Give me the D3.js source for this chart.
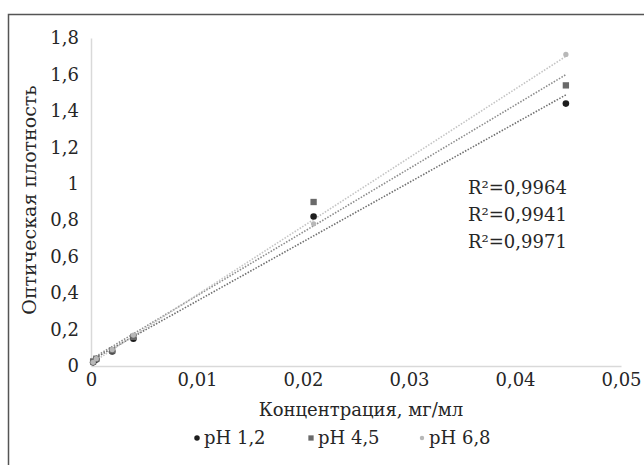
<!DOCTYPE html>
<html>
<head>
<meta charset="utf-8">
<script src="https://cdn.jsdelivr.net/npm/d3@7"></script>
<style>
  body { margin: 0; background: #fff; }
  svg { display: block; }
</style>
</head>
<body>
<div id="chart"></div>
<script>
const WIDTH = 644, HEIGHT = 465;
const MARGIN = { top: 38, left: 91 };
const PLOT_W = 530, PLOT_H = 328;

// concentration, mg/ml
const conc = [0.0002, 0.0005, 0.002, 0.004, 0.021, 0.0448];
const seriesNames = ["pH 1,2", "pH 4,5", "pH 6,8"];
const ph12 = [0.02, 0.035, 0.08, 0.15, 0.82, 1.44];
const ph45 = [0.025, 0.04, 0.085, 0.16, 0.90, 1.54];
const ph68 = [0.02, 0.04, 0.09, 0.17, 0.78, 1.71];
const r2Labels = ["R²=0,9964", "R²=0,9941", "R²=0,9971"];
const xTicks = [0, 0.01, 0.02, 0.03, 0.04, 0.05];
const yTicks = [0, 0.2, 0.4, 0.6, 0.8, 1, 1.2, 1.4, 1.6, 1.8];

const COLORS = ["#1e1e1e", "#6a6a6a", "#b8b8b8"];
const LINE_COLORS = ["#707070", "#8c8c8c", "#c4c4c4"];
const FONT = "'DejaVu Serif', serif";
const FONT_SIZE = "18px";

const series = [ph12, ph45, ph68].map((vals, i) => ({
  name: seriesNames[i],
  values: conc.map((c, j) => ({ x: c, y: vals[j] }))
}));

const fmt = (d) => String(+d.toFixed(2)).replace(".", ",");

const root = d3.select("#chart").append("svg")
  .attr("width", WIDTH)
  .attr("height", HEIGHT);

// outer frame (right and bottom edges fall outside the picture)
root.append("path")
  .attr("d", `M8.5,${HEIGHT} V14.5 H${WIDTH}`)
  .attr("fill", "none")
  .attr("stroke", "#555")
  .attr("stroke-width", 1.5);

const svg = root.append("g")
  .attr("transform", `translate(${MARGIN.left},${MARGIN.top})`);

const x = d3.scaleLinear().domain([0, 0.05]).range([0, PLOT_W]);
const y = d3.scaleLinear().domain([0, 1.8]).range([PLOT_H, 0]);

const textStyle = (sel) => sel
  .style("font-family", FONT)
  .style("font-size", FONT_SIZE)
  .attr("fill", "#262626");

// axes
const xAxis = svg.append("g")
  .attr("transform", `translate(0,${PLOT_H})`)
  .call(d3.axisBottom(x).tickValues(xTicks).tickFormat(fmt).tickSize(0).tickPadding(7));
const yAxis = svg.append("g")
  .call(d3.axisLeft(y).tickValues(yTicks).tickFormat(fmt).tickSize(0).tickPadding(12));

[xAxis, yAxis].forEach((ax) => {
  ax.select(".domain").attr("stroke", "#d9d9d9").attr("stroke-width", 1.5);
  ax.selectAll("text").call(textStyle);
});

// trendlines (least squares)
series.forEach((s, i) => {
  const mx = d3.mean(s.values, (d) => d.x);
  const my = d3.mean(s.values, (d) => d.y);
  const slope = d3.sum(s.values, (d) => (d.x - mx) * (d.y - my)) /
    d3.sum(s.values, (d) => (d.x - mx) ** 2);
  const icpt = my - slope * mx;
  const ends = d3.extent(conc).map((c) => ({ x: c, y: icpt + slope * c }));
  svg.append("path")
    .datum(ends)
    .attr("fill", "none")
    .attr("stroke", LINE_COLORS[i])
    .attr("stroke-width", 1.6)
    .attr("stroke-dasharray", "1.5,1.5")
    .attr("d", d3.line().x((d) => x(d.x)).y((d) => y(d.y)));
});

// markers
const symbols = [d3.symbolCircle, d3.symbolSquare, d3.symbolCircle];
const sizes = [34, 40, 22];
series.forEach((s, i) => {
  svg.selectAll(`.pt-${i}`)
    .data(s.values)
    .enter()
    .append("path")
    .attr("transform", (d) => `translate(${x(d.x)},${y(d.y)})`)
    .attr("d", d3.symbol().type(symbols[i]).size(sizes[i]))
    .attr("fill", COLORS[i]);
});

// R² labels
svg.selectAll(".r2")
  .data(r2Labels)
  .enter()
  .append("text")
  .attr("x", 377)
  .attr("y", (d, i) => 156 + i * 27)
  .call(textStyle)
  .text((d) => d);

// axis titles
svg.append("text")
  .attr("x", 270)
  .attr("y", PLOT_H + 50)
  .attr("text-anchor", "middle")
  .call(textStyle)
  .text("Концентрация, мг/мл");

svg.append("text")
  .attr("transform", `translate(-55,${PLOT_H / 2 - 2}) rotate(-90)`)
  .attr("text-anchor", "middle")
  .call(textStyle)
  .style("font-size", "19px")
  .text("Оптическая плотность");

// legend
const legendX = [106, 220, 331];
const legend = svg.selectAll(".legend")
  .data(series)
  .enter()
  .append("g")
  .attr("transform", (d, i) => `translate(${legendX[i]},${PLOT_H + 72})`);
legend.append("path")
  .attr("d", (d, i) => d3.symbol().type(symbols[i]).size(sizes[i] * 0.7)())
  .attr("fill", (d, i) => COLORS[i]);
legend.append("text")
  .attr("x", 7)
  .attr("y", 6)
  .call(textStyle)
  .text((d) => d.name);
</script>
</body>
</html>
